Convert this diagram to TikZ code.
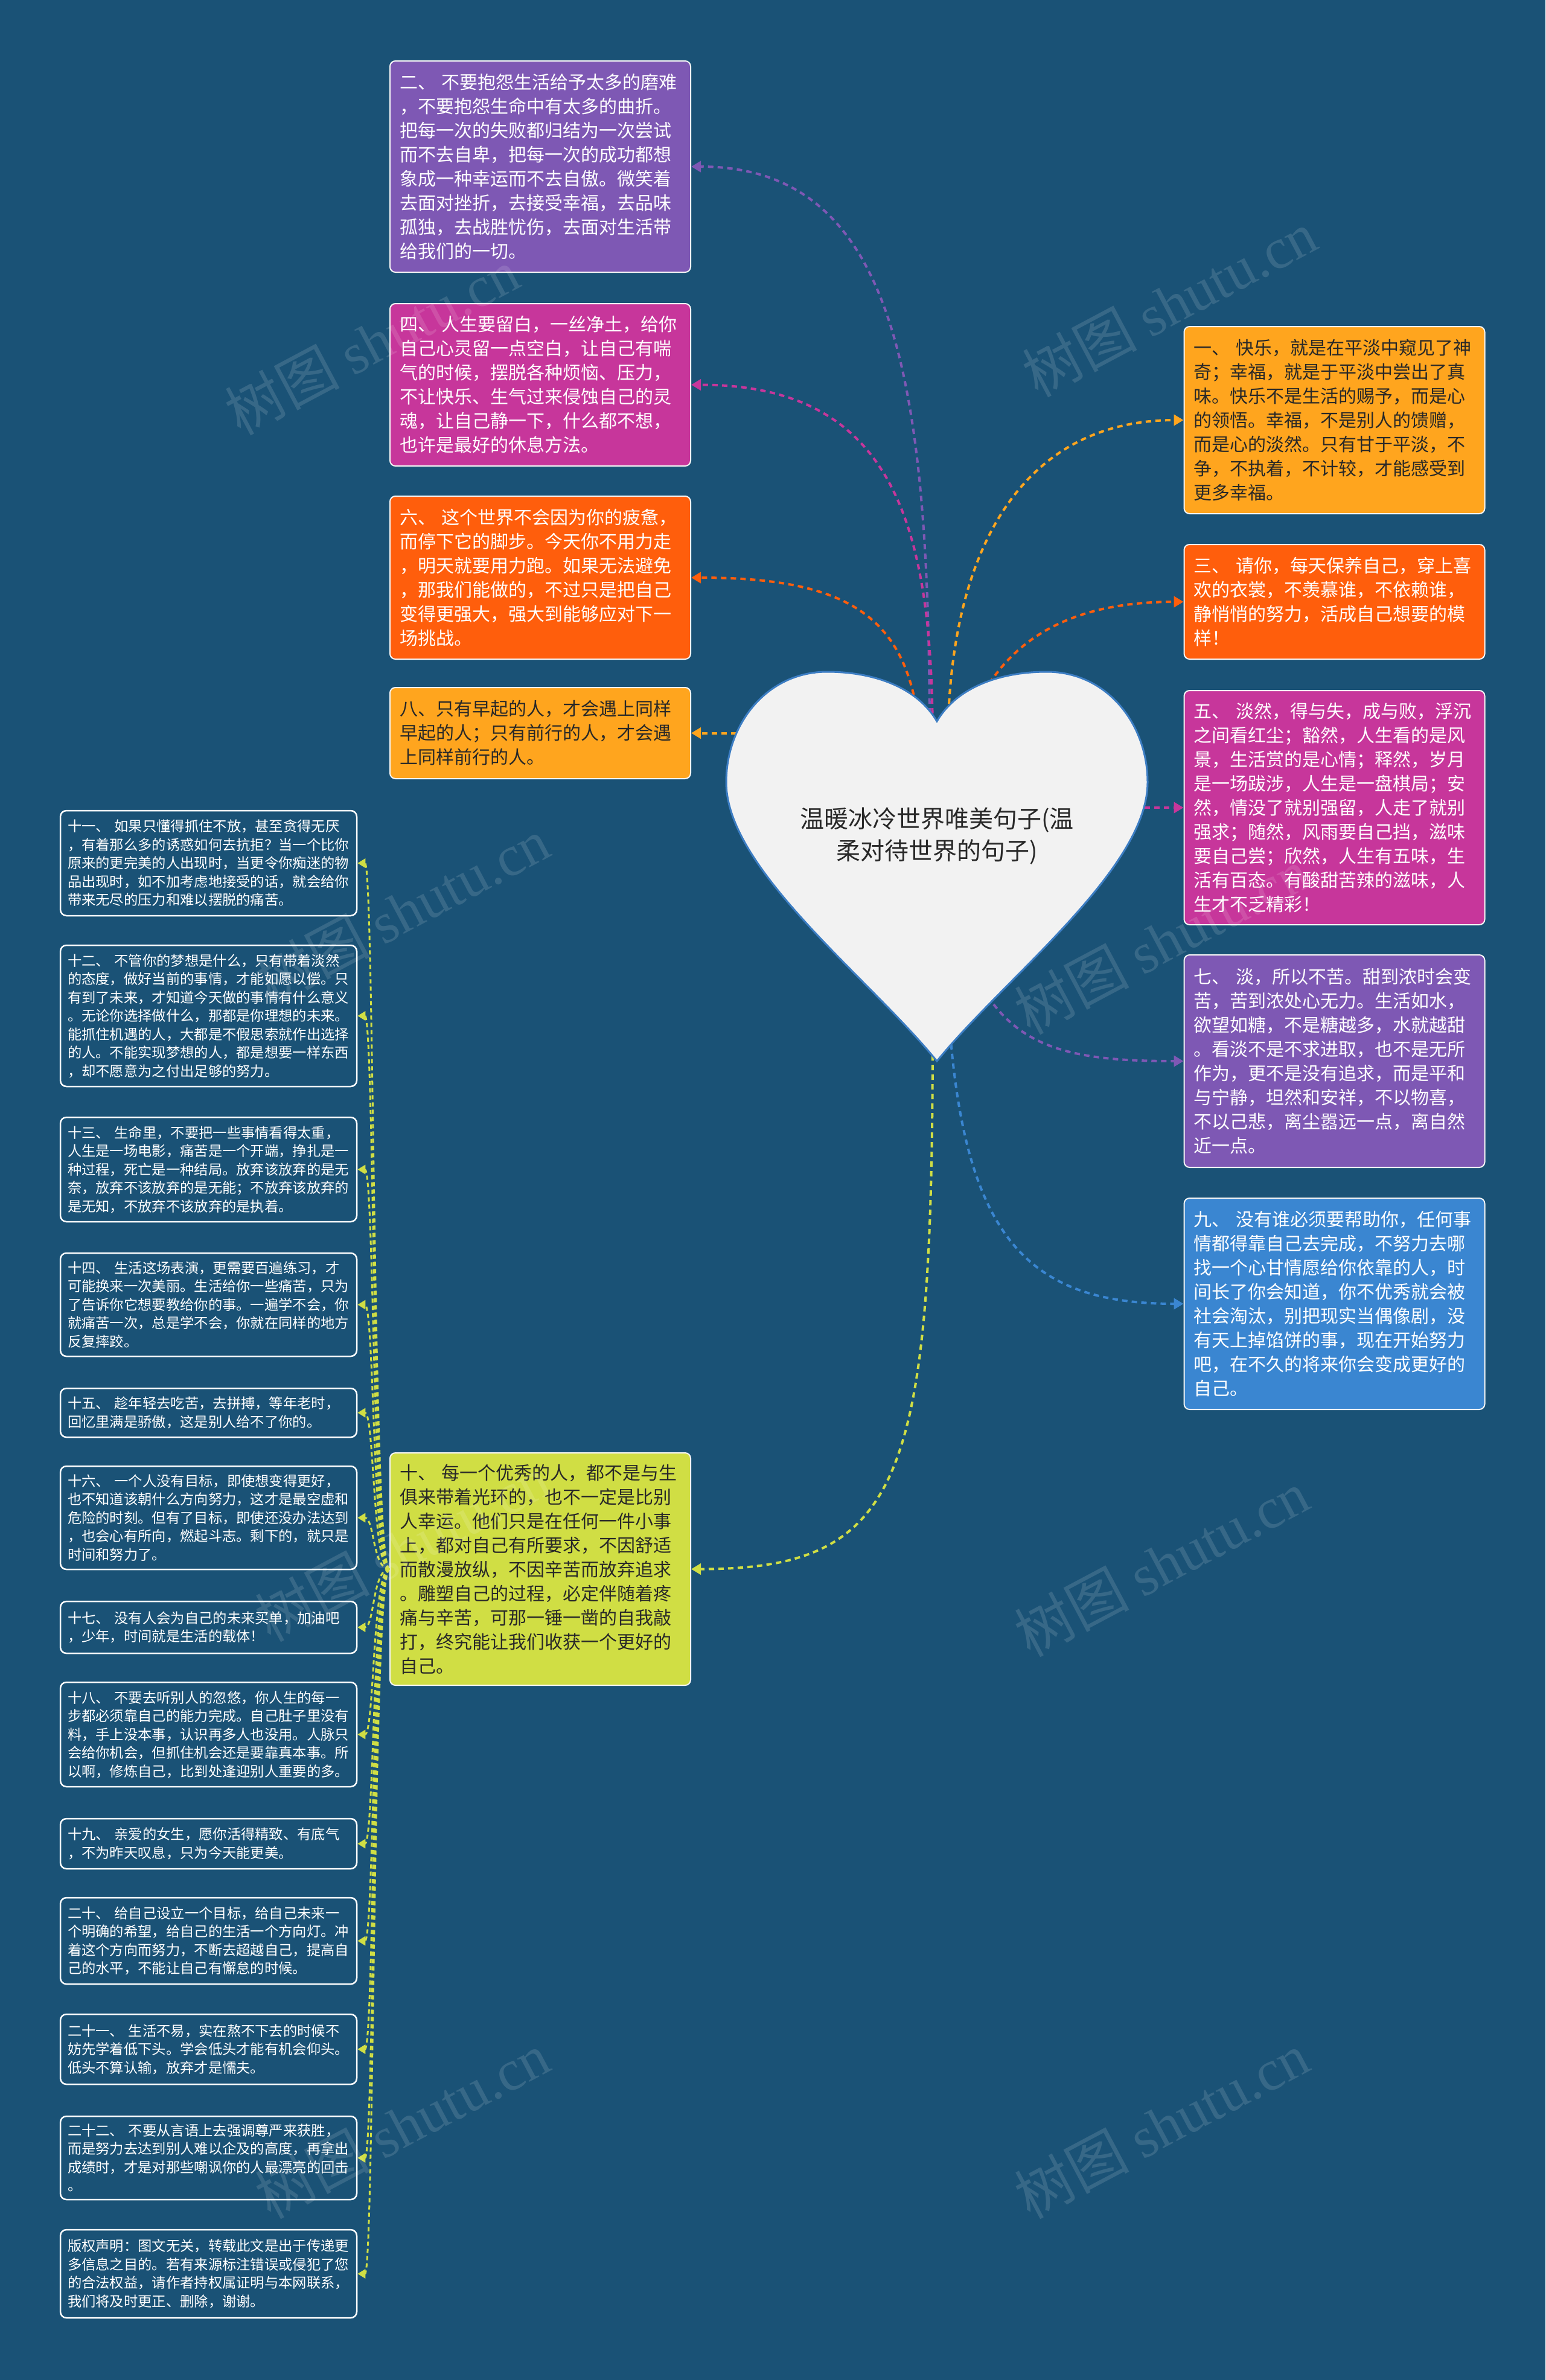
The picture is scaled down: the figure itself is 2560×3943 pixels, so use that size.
\documentclass[tikz,border=0pt]{standalone}
\usepackage{fontspec}
\setmainfont{Noto Sans CJK SC}
\newfontfamily\wmfont{Liberation Serif}
\usetikzlibrary{arrows.meta}
\definecolor{bg}{RGB}{26,82,118}
\definecolor{cpurple}{RGB}{126,88,180}
\definecolor{cmagenta}{RGB}{199,54,155}
\definecolor{corange}{RGB}{255,94,12}
\definecolor{camber}{RGB}{255,165,30}
\definecolor{cyg}{RGB}{208,222,68}
\definecolor{cblue}{RGB}{58,134,209}
\definecolor{darktext}{RGB}{40,40,40}
\definecolor{heartfill}{RGB}{242,242,242}
\definecolor{heartline}{RGB}{60,125,195}
\tikzset{
  bigbox/.style={draw=white!92!gray, line width=2pt, rounded corners=9pt, minimum width=498pt, text width=466pt, inner xsep=16pt, inner ysep=0pt, align=left, font=\fontsize{30}{40}\selectfont},
  smallbox/.style={draw=white, line width=2.5pt, rounded corners=10pt, fill=bg, minimum width=491pt, text width=467pt, inner xsep=12pt, inner ysep=0pt, align=left, text=white, font=\fontsize{23.3}{30.5}\selectfont},
  link/.style={line width=4pt, dash pattern=on 9pt off 7pt, -{Triangle[length=16pt,width=18pt]}},
  sublink/.style={draw=cyg, line width=3pt, dash pattern=on 7pt off 5pt, -{Triangle[length=13pt,width=15pt,fill=cyg]}},
  wm/.style={text=white, opacity=0.13, rotate=28, font=\fontsize{95}{95}\selectfont},
}
\begin{document}
\begin{tikzpicture}[x=1pt,y=-1pt]
\useasboundingbox (0,0) rectangle (2560,3943);
\fill[bg] (0,0) rectangle (2560,3943);

% ---------- boxes ----------
\node[bigbox, fill=cpurple, text=white, minimum height=350pt] (n2) at (895,276) {二、~不要抱怨生活给予太多的磨难\\，不要抱怨生命中有太多的曲折。\\把每一次的失败都归结为一次尝试\\而不去自卑，把每一次的成功都想\\象成一种幸运而不去自傲。微笑着\\去面对挫折，去接受幸福，去品味\\孤独，去战胜忧伤，去面对生活带\\给我们的一切。};
\node[bigbox, fill=cmagenta, text=white, minimum height=269pt] (n4) at (895,637.5) {四、~人生要留白，一丝净土，给你\\自己心灵留一点空白，让自己有喘\\气的时候，摆脱各种烦恼、压力，\\不让快乐、生气过来侵蚀自己的灵\\魂，让自己静一下，什么都不想，\\也许是最好的休息方法。};
\node[bigbox, fill=corange, text=white, minimum height=270pt] (n6) at (895,957) {六、~这个世界不会因为你的疲惫，\\而停下它的脚步。今天你不用力走\\，明天就要用力跑。如果无法避免\\，那我们能做的，不过只是把自己\\变得更强大，强大到能够应对下一\\场挑战。};
\node[bigbox, fill=camber, text=darktext, minimum height=151pt] (n8) at (895,1214.5) {八、只有早起的人，才会遇上同样\\早起的人；只有前行的人，才会遇\\上同样前行的人。};
\node[bigbox, fill=cyg, text=darktext, minimum height=385pt] (n10) at (895,2599.5) {十、~每一个优秀的人，都不是与生\\俱来带着光环的，也不一定是比别\\人幸运。他们只是在任何一件小事\\上，都对自己有所要求，不因舒适\\而散漫放纵，不因辛苦而放弃追求\\。雕塑自己的过程，必定伴随着疼\\痛与辛苦，可那一锤一凿的自我敲\\打，终究能让我们收获一个更好的\\自己。};

\node[bigbox, fill=camber, text=darktext, minimum height=310pt] (n1) at (2210.5,696) {一、~快乐，就是在平淡中窥见了神\\奇；幸福，就是于平淡中尝出了真\\味。快乐不是生活的赐予，而是心\\的领悟。幸福，不是别人的馈赠，\\而是心的淡然。只有甘于平淡，不\\争，不执着，不计较，才能感受到\\更多幸福。};
\node[bigbox, fill=corange, text=white, minimum height=190pt] (n3) at (2210.5,997) {三、~请你，每天保养自己，穿上喜\\欢的衣裳，不羡慕谁，不依赖谁，\\静悄悄的努力，活成自己想要的模\\样！};
\node[bigbox, fill=cmagenta, text=white, minimum height=388pt] (n5) at (2210.5,1338) {五、~淡然，得与失，成与败，浮沉\\之间看红尘；豁然，人生看的是风\\景，生活赏的是心情；释然，岁月\\是一场跋涉，人生是一盘棋局；安\\然，情没了就别强留，人走了就别\\强求；随然，风雨要自己挡，滋味\\要自己尝；欣然，人生有五味，生\\活有百态。有酸甜苦辣的滋味，人\\生才不乏精彩！};
\node[bigbox, fill=cpurple, text=white, minimum height=352pt] (n7) at (2210.5,1758) {七、~淡，所以不苦。甜到浓时会变\\苦，苦到浓处心无力。生活如水，\\欲望如糖，不是糖越多，水就越甜\\。看淡不是不求进取，也不是无所\\作为，更不是没有追求，而是平和\\与宁静，坦然和安祥，不以物喜，\\不以己悲，离尘嚣远一点，离自然\\近一点。};
\node[bigbox, fill=cblue, text=white, minimum height=350pt] (n9) at (2210.5,2160) {九、~没有谁必须要帮助你，任何事\\情都得靠自己去完成，不努力去哪\\找一个心甘情愿给你依靠的人，时\\间长了你会知道，你不优秀就会被\\社会淘汰，别把现实当偶像剧，没\\有天上掉馅饼的事，现在开始努力\\吧，在不久的将来你会变成更好的\\自己。};

% small boxes
\node[smallbox, minimum height=174pt] (n11) at (345.5,1430) {十一、~如果只懂得抓住不放，甚至贪得无厌\\，有着那么多的诱惑如何去抗拒？当一个比你\\原来的更完美的人出现时，当更令你痴迷的物\\品出现时，如不加考虑地接受的话，就会给你\\带来无尽的压力和难以摆脱的痛苦。};
\node[smallbox, minimum height=234pt] (n12) at (345.5,1683) {十二、~不管你的梦想是什么，只有带着淡然\\的态度，做好当前的事情，才能如愿以偿。只\\有到了未来，才知道今天做的事情有什么意义\\。无论你选择做什么，那都是你理想的未来。\\能抓住机遇的人，大都是不假思索就作出选择\\的人。不能实现梦想的人，都是想要一样东西\\，却不愿意为之付出足够的努力。};
\node[smallbox, minimum height=173pt] (n13) at (345.5,1937.5) {十三、~生命里，不要把一些事情看得太重，\\人生是一场电影，痛苦是一个开端，挣扎是一\\种过程，死亡是一种结局。放弃该放弃的是无\\奈，放弃不该放弃的是无能；不放弃该放弃的\\是无知，不放弃不该放弃的是执着。};
\node[smallbox, minimum height=171pt] (n14) at (345.5,2161.5) {十四、~生活这场表演，更需要百遍练习，才\\可能换来一次美丽。生活给你一些痛苦，只为\\了告诉你它想要教给你的事。一遍学不会，你\\就痛苦一次，总是学不会，你就在同样的地方\\反复摔跤。};
\node[smallbox, minimum height=81pt] (n15) at (345.5,2340.5) {十五、~趁年轻去吃苦，去拼搏，等年老时，\\回忆里满是骄傲，这是别人给不了你的。};
\node[smallbox, minimum height=171pt] (n16) at (345.5,2514.5) {十六、~一个人没有目标，即使想变得更好，\\也不知道该朝什么方向努力，这才是最空虚和\\危险的时刻。但有了目标，即使还没办法达到\\，也会心有所向，燃起斗志。剩下的，就只是\\时间和努力了。};
\node[smallbox, minimum height=86pt] (n17) at (345.5,2696) {十七、~没有人会为自己的未来买单，加油吧\\，少年，时间就是生活的载体！};
\node[smallbox, minimum height=173pt] (n18) at (345.5,2873.5) {十八、~不要去听别人的忽悠，你人生的每一\\步都必须靠自己的能力完成。自己肚子里没有\\料，手上没本事，认识再多人也没用。人脉只\\会给你机会，但抓住机会还是要靠真本事。所\\以啊，修炼自己，比到处逢迎别人重要的多。};
\node[smallbox, minimum height=83pt] (n19) at (345.5,3054.5) {十九、~亲爱的女生，愿你活得精致、有底气\\，不为昨天叹息，只为今天能更美。};
\node[smallbox, minimum height=143pt] (n20) at (345.5,3215.5) {二十、~给自己设立一个目标，给自己未来一\\个明确的希望，给自己的生活一个方向灯。冲\\着这个方向而努力，不断去超越自己，提高自\\己的水平，不能让自己有懈怠的时候。};
\node[smallbox, minimum height=116pt] (n21) at (345.5,3395) {二十一、~生活不易，实在熬不下去的时候不\\妨先学着低下头。学会低头才能有机会仰头。\\低头不算认输，放弃才是懦夫。};
\node[smallbox, minimum height=138pt] (n22) at (345.5,3575) {二十二、~不要从言语上去强调尊严来获胜，\\而是努力去达到别人难以企及的高度，再拿出\\成绩时，才是对那些嘲讽你的人最漂亮的回击\\。};
\node[smallbox, minimum height=146pt] (n23) at (345.5,3767) {版权声明：图文无关，转载此文是出于传递更\\多信息之目的。若有来源标注错误或侵犯了您\\的合法权益，请作者持权属证明与本网联系，\\我们将及时更正、删除，谢谢。};

% ---------- connectors ----------
\coordinate (s2) at (1540,1230);
\coordinate (s4) at (1545,1230);
\coordinate (s6) at (1525,1230);
\coordinate (s8) at (1300,1214.5);
\coordinate (s10) at (1545,1700);
\coordinate (s1) at (1570,1230);
\coordinate (s3) at (1590,1250);
\coordinate (s5) at (1800,1338);
\coordinate (s7) at (1600,1580);
\coordinate (s9) at (1570,1650);
\draw[link, cpurple] (s2) .. controls (1540,630) and (1484,276) .. (n2.east);
\draw[link, cmagenta] (s4) .. controls (1545,870) and (1480,637.5) .. (n4.east);
\draw[link, corange] (s6) .. controls (1510,1030) and (1420,957) .. (n6.east);
\draw[link, camber] (s8) -- (n8.east);
\draw[link, cyg] (s10) .. controls (1545,2450) and (1500,2599.5) .. (n10.east);
\draw[link, camber] (s1) .. controls (1572,900) and (1700,696) .. (n1.west);
\draw[link, corange] (s3) .. controls (1640,1040) and (1800,997) .. (n3.west);
\draw[link, cmagenta] (s5) -- (n5.west);
\draw[link, cpurple] (s7) .. controls (1660,1730) and (1750,1758) .. (n7.west);
\draw[link, cblue] (s9) .. controls (1590,2050) and (1700,2160) .. (n9.west);

\foreach \k in {11,...,23}{
  \draw[sublink] (n10.west) .. controls +(-28,0) and +(28,0) .. (n\k.east);
}

% ---------- heart ----------
\filldraw[fill=heartfill, draw=heartline, line width=3pt]
  (1552,1195) .. controls (1520,1140) and (1450,1113) .. (1370,1113)
  .. controls (1270,1113) and (1203,1200) .. (1203,1296)
  .. controls (1203,1440) and (1440,1620) .. (1552,1758)
  .. controls (1664,1620) and (1901,1440) .. (1901,1296)
  .. controls (1901,1200) and (1834,1113) .. (1734,1113)
  .. controls (1654,1113) and (1584,1140) .. (1552,1195) -- cycle;
\node[font=\fontsize{40}{53}\selectfont, text=darktext, align=center] (root) at (1552,1385) {温暖冰冷世界唯美句子(温\\柔对待世界的句子)};

% ---------- watermarks ----------
\node[wm] (w1) at (616,566) {树图 {\wmfont shutu.cn}};
\node[wm] (w2) at (1937,503) {树图 {\wmfont shutu.cn}};
\node[wm] (w3) at (666,1509) {树图 {\wmfont shutu.cn}};
\node[wm] (w4) at (1924,1559) {树图 {\wmfont shutu.cn}};
\node[wm] (w5) at (666,2565) {树图 {\wmfont shutu.cn}};
\node[wm] (w6) at (1924,2590) {树图 {\wmfont shutu.cn}};
\node[wm] (w7) at (666,3521) {树图 {\wmfont shutu.cn}};
\node[wm] (w8) at (1924,3521) {树图 {\wmfont shutu.cn}};
\end{tikzpicture}
\end{document}
